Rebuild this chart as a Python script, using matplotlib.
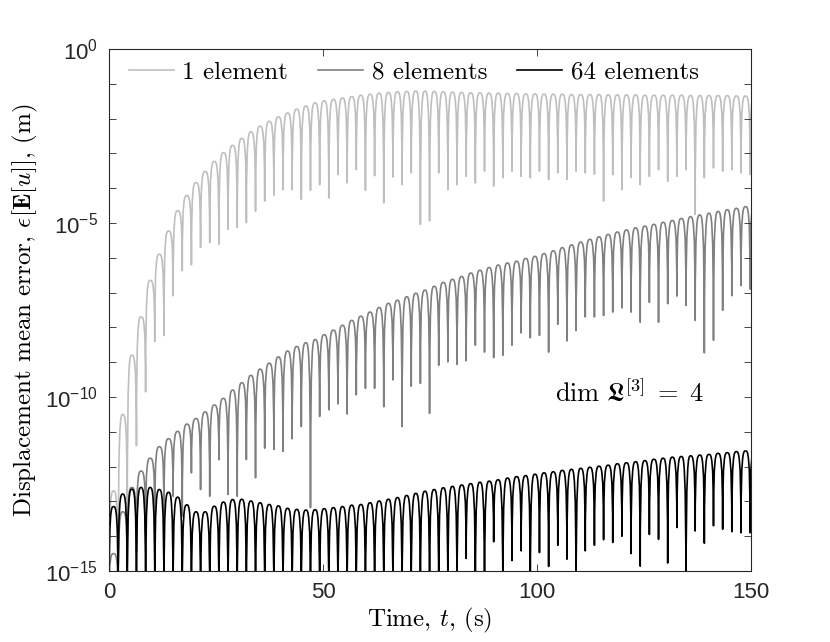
import numpy as np
import matplotlib
matplotlib.use('Agg')
import matplotlib.pyplot as plt
from matplotlib.path import Path
from matplotlib.patches import PathPatch
from matplotlib.ticker import FixedLocator, FixedFormatter, NullLocator

## oscillation period of the error curves (s)
period = 2.14

## log10 of the error at each arch top / each cusp
light_peak = [-12.7, -10.5, -8.8, -7.7, -6.65, -5.9, -5.23, -4.65, -4.21, -3.84,
              -3.52, -3.23, -2.98, -2.77, -2.57, -2.38, -2.22, -2.08, -1.95, -1.84,
              -1.73, -1.64, -1.55, -1.49, -1.45, -1.41, -1.37, -1.33, -1.3, -1.27,
              -1.25, -1.23, -1.22, -1.21, -1.21, -1.22, -1.23, -1.24, -1.25, -1.26,
              -1.26, -1.27, -1.27, -1.28, -1.28, -1.29, -1.29, -1.3, -1.3, -1.3,
              -1.31, -1.31, -1.31, -1.31, -1.32, -1.32, -1.32, -1.32, -1.33, -1.33,
              -1.33, -1.33, -1.33, -1.34, -1.34, -1.34, -1.34, -1.34, -1.35, -1.35,
              -1.35]
light_dip = [-16, -16, -13.7, -11.4, -9.85, -8.4, -8.23, -7.09, -6.37, -6.2,
             -5.7, -5.56, -5.61, -5.18, -5.13, -4.99, -4.66, -4.37, -4.2, -4.04,
             -4.04, -4.32, -4.06, -3.9, -4.28, -3.61, -3.85, -3.47, -4.06, -3.64,
             -4.42, -3.68, -3.9, -3.56, -5.04, -4.94, -3.56, -4.04, -3.9, -3.66,
             -3.85, -3.51, -3.94, -3.7, -3.51, -3.66, -3.7, -3.51, -3.75, -3.56,
             -3.75, -3.51, -3.56, -3.6, -4.37, -3.61, -4.04, -3.7, -3.9, -3.66,
             -3.47, -3.8, -3.66, -3.47, -4.75, -3.7, -3.42, -3.51, -3.47, -3.56,
             -3.6]

mid_peak = [-14.5, -13.3, -12.6, -12.13, -11.76, -11.43, -11.2, -10.99, -10.78, -10.62,
            -10.43, -10.23, -10.04, -9.8, -9.59, -9.38, -9.2, -9.03, -8.85, -8.68,
            -8.55, -8.44, -8.35, -8.21, -8.08, -7.94, -7.8, -7.68, -7.56, -7.43,
            -7.31, -7.22, -7.12, -7.02, -6.93, -6.82, -6.71, -6.62, -6.54, -6.44,
            -6.36, -6.28, -6.21, -6.15, -6.1, -6.02, -5.96, -5.88, -5.8, -5.71,
            -5.63, -5.55, -5.47, -5.4, -5.33, -5.26, -5.2, -5.14, -5.09, -5.04,
            -4.98, -4.93, -4.87, -4.82, -4.77, -4.72, -4.67, -4.62, -4.58, -4.53,
            -4.5]
mid_dip = [-16, -16, -14.85, -14.47, -13.9, -13.6, -13.42, -12.85, -13.42, -12.18,
           -12.66, -12.85, -11.8, -12.8, -12.85, -11.8, -12.32, -11.47, -11.51, -11.56,
           -11.2, -10.85, -13.18, -10.56, -10.37, -10.2, -10.49, -9.94, -9.75, -9.75,
           -10.28, -9.51, -10.85, -9.69, -9.61, -10.47, -9.09, -8.99, -9.06, -8.96,
           -8.51, -8.71, -8.87, -8.8, -8.51, -8.16, -8.3, -8.23, -8.71, -7.91,
           -8.39, -8.09, -7.7, -7.7, -7.66, -7.56, -7.44, -7.56, -7.85, -7.28,
           -7.85, -7.32, -7.1, -7.37, -7.8, -8.73, -8.37, -7.51, -7.09, -6.8,
           -6.9]

black_peak = [-13.15, -12.79, -12.65, -12.6, -12.6, -12.66, -12.74, -12.88, -13.1, -13.3,
              -13.3, -13.14, -13.02, -12.95, -12.94, -12.99, -13.04, -13.09, -13.13, -13.2,
              -13.23, -13.25, -13.24, -13.21, -13.18, -13.15, -13.11, -13.09, -13.04, -12.99,
              -12.94, -12.89, -12.83, -12.77, -12.71, -12.66, -12.61, -12.57, -12.53, -12.49,
              -12.45, -12.42, -12.38, -12.33, -12.29, -12.26, -12.22, -12.18, -12.15, -12.11,
              -12.08, -12.05, -12.02, -11.99, -11.96, -11.92, -11.89, -11.86, -11.83, -11.79,
              -11.76, -11.73, -11.71, -11.69, -11.67, -11.65, -11.62, -11.6, -11.57, -11.55,
              -11.53]
black_dip = [-16, -16, -16, -16, -16, -16, -16, -16, -16, -16,
             -16, -16, -16, -16, -16, -16, -16, -16, -16, -16,
             -16, -16, -16, -16, -16, -16, -16, -16, -16, -16,
             -16, -16, -16, -16, -16, -16, -16, -16, -16, -14.64,
             -16, -16, -14.16, -16, -14.7, -14.42, -16, -14.47, -14.87, -14.26,
             -14.66, -16, -14.42, -14.26, -14.1, -14.18, -14.0, -14.5, -14.86, -13.95,
             -14.09, -14.77, -13.75, -16, -13.85, -14.2, -13.7, -13.8, -13.87, -13.9,
             -13.9]

labels = ['1 element', '8 elements', '64 elements']
colors = ['#bfbfbf', '#808080', '#000000']

plt.rcParams['font.family'] = 'cmr10'
plt.rcParams['mathtext.fontset'] = 'custom'
plt.rcParams['mathtext.rm'] = 'Liberation Sans'
plt.rcParams['mathtext.it'] = 'Liberation Sans:italic'
plt.rcParams['mathtext.bf'] = 'Liberation Sans:bold'
plt.rcParams['axes.linewidth'] = 0.8


## one rounded arch per oscillation: cusp -> top -> next cusp (bezier in log space)
def arches(peaks, dips):
    verts = [(0.0, 10.0 ** dips[0])]
    codes = [Path.MOVETO]
    for k, p in enumerate(peaks):
        t0 = k * period
        top = 10.0 ** p
        verts += [(t0, top), (t0 + period / 4, top), (t0 + period / 2, top)]
        codes += [Path.CURVE4] * 3
        if k + 1 < len(dips):
            t1 = t0 + period
            verts += [(t0 + 3 * period / 4, top), (t1, top), (t1, 10.0 ** dips[k + 1])]
            codes += [Path.CURVE4] * 3
    return Path(verts, codes)


fig = plt.figure(figsize=(8.3, 6.42), dpi=100)
ax = fig.add_axes([0.1313, 0.1106, 0.7735, 0.8131])
ax.set_yscale('log')
ax.set_xlim(0, 150)
ax.set_ylim(1e-15, 1)

series = [(light_peak, light_dip), (mid_peak, mid_dip), (black_peak, black_dip)]
for (pk, dp), lab, col in zip(series, labels, colors):
    ax.add_patch(PathPatch(arches(pk, dp), fill=False, edgecolor=col, lw=1.2,
                           joinstyle='round', capstyle='round'))
    ax.plot([], [], color=col, lw=1.2, label=lab)

ax.yaxis.set_major_locator(FixedLocator(10.0 ** np.arange(-15, 1)))
ax.yaxis.set_major_formatter(FixedFormatter(
    [r'$10^{%d}$' % e if e % 5 == 0 else '' for e in range(-15, 1)]))
ax.yaxis.set_minor_locator(NullLocator())
ax.set_xticks([0, 50, 100, 150])
ax.set_xticklabels(['0', '50', '100', '150'], fontfamily='Liberation Sans')
ax.tick_params(direction='in', top=True, right=True, length=5, width=0.6,
               colors='#262626', labelsize=16, pad=8)
for s in ax.spines.values():
    s.set_color('#262626')

ax.set_xlabel(r'Time, $t$, (s)', fontsize=18, math_fontfamily='cm', labelpad=2)
ax.set_ylabel(r'Displacement mean error, $\epsilon[\mathbf{E}[u]]$, (m)',
              fontsize=18, math_fontfamily='cm', labelpad=4)

ax.text(121.5, 1.3e-10, r'$\dim\,\mathfrak{L}^{[3]}\;=\;4$', fontsize=19,
        math_fontfamily='cm', ha='center', va='center')

ax.legend(loc='upper center', bbox_to_anchor=(0.475, 1.02), ncol=3, frameon=False,
          fontsize=18, handlelength=1.8, handletextpad=0.35, columnspacing=1.2)

fig.savefig('out.png', dpi=100)
